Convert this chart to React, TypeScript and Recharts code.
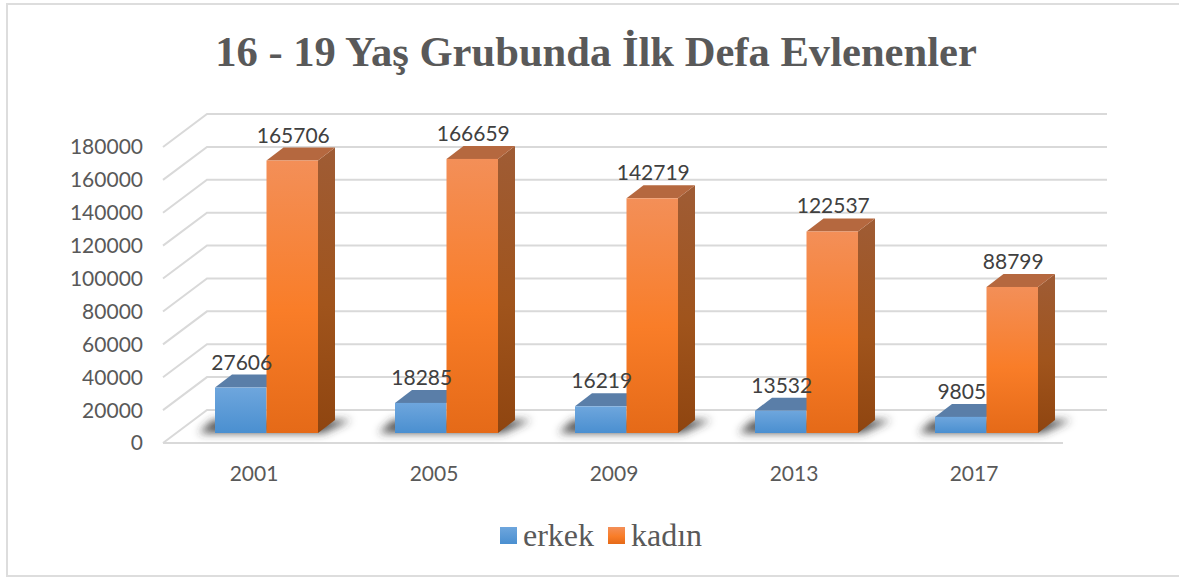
import React from "react";
import { BarChart, Bar, XAxis, YAxis, CartesianGrid, Legend, LabelList } from "recharts";

const years = ["2001", "2005", "2009", "2013", "2017"];
const erkek = [27606, 18285, 16219, 13532, 9805];
const kadin = [165706, 166659, 142719, 122537, 88799];
const yTicks = [0, 20000, 40000, 60000, 80000, 100000, 120000, 140000, 160000, 180000];
const TITLE = "16 - 19 Yaş Grubunda İlk Defa Evlenenler";

const data = years.map((year, i) => ({ year, erkek: erkek[i], kadin: kadin[i] }));

const DX = 13;
const DY = -10;
const SX = 17;
const SY = -13;
const WALL_X = 44;
const WALL_Y = -33;
const GRID = "#D9D9D9";
const AXIS_FONT = "Lato, sans-serif";
const SERIF = "'Liberation Serif', serif";

const Grid = (props: any) => {
  const { x1, x2, y1, y2 } = props;
  const isZero = Math.abs(y1 - 443) < 2;
  return (
    <g>
      <polyline
        points={`${x1},${y1} ${x1 + WALL_X},${y1 + WALL_Y} ${x2 + WALL_X},${y2 + WALL_Y}`}
        fill="none"
        stroke={GRID}
        strokeWidth={2}
      />
      {isZero ? <line x1={x1} y1={y1} x2={x2} y2={y2} stroke={GRID} strokeWidth={2} /> : null}
    </g>
  );
};

const Cuboid = (props: any) => {
  const { x, y, width, height, kind } = props;
  const l = x + DX;
  const t = y + DY;
  const r = l + width;
  const b = t + height;
  const isBlue = kind === "blue";
  return (
    <g>
      {isBlue ? (
        <polygon
          points={`${l - 16},${b} ${l + 108},${b} ${l + 136},${b - 13} ${l - 2},${b - 13}`}
          fill="#333"
          fillOpacity={0.85}
          filter="url(#shadowBlur)"
        />
      ) : null}
      {isBlue ? null : (
        <polygon
          points={`${r},${t} ${r + SX},${t + SY} ${r + SX},${b + SY} ${r},${b}`}
          fill="url(#orangeSide)"
        />
      )}
      <polygon
        points={`${l},${t} ${l + SX},${t + SY} ${r + SX},${t + SY} ${r},${t}`}
        fill={isBlue ? "#5A7EA8" : "#B5683F"}
      />
      <rect x={l} y={t} width={width} height={height} fill={isBlue ? "url(#blueFront)" : "url(#orangeFront)"} />
    </g>
  );
};

const ValueLabel = (props: any) => {
  const { x, y, width, value } = props;
  return (
    <text
      x={x + DX + width / 2 + 1}
      y={y + DY - 18}
      textAnchor="middle"
      fill="#404040"
      fontFamily={AXIS_FONT}
      fontSize={21}
    >
      {value}
    </text>
  );
};

const swatch: Record<string, string> = {
  erkek: "linear-gradient(#6EA6DD, #4A8FD0)",
  kadin: "linear-gradient(#F38F58, #F97D28 55%, #E56A18)",
};

const LegendBox = (props: any) => (
  <div style={{ display: "flex", justifyContent: "center", alignItems: "center", gap: 14 }}>
    {(props.payload || []).map((p: any) => (
      <div key={p.dataKey} style={{ display: "flex", alignItems: "center", gap: 6 }}>
        <span style={{ width: 17, height: 17, display: "inline-block", background: swatch[p.dataKey] }} />
        <span style={{ fontFamily: SERIF, fontSize: 32, color: "#595959", lineHeight: "36px" }}>{p.value}</span>
      </div>
    ))}
  </div>
);

export default function App() {
  return (
    <div
      style={{
        position: "absolute",
        left: 0,
        top: 0,
        width: 1179,
        height: 577,
        background: "#fff",
        overflow: "hidden",
      }}
    >
      <BarChart
        width={1179}
        height={577}
        data={data}
        margin={{ top: 147, right: 116, bottom: 68, left: 93 }}
        barGap={0}
        barSize={51.5}
      >
        <defs>
          <linearGradient id="orangeFront" x1="0" y1="0" x2="0" y2="1">
            <stop offset="0" stopColor="#F38F58" />
            <stop offset="0.55" stopColor="#F97D28" />
            <stop offset="1" stopColor="#E56A18" />
          </linearGradient>
          <linearGradient id="orangeSide" x1="0" y1="0" x2="0" y2="1">
            <stop offset="0" stopColor="#9F5C35" />
            <stop offset="0.55" stopColor="#A0541C" />
            <stop offset="1" stopColor="#8F4510" />
          </linearGradient>
          <linearGradient id="blueFront" x1="0" y1="0" x2="0" y2="1">
            <stop offset="0" stopColor="#6EA6DD" />
            <stop offset="1" stopColor="#4A8FD0" />
          </linearGradient>
          <filter id="shadowBlur" x="-30%" y="-100%" width="160%" height="300%">
            <feGaussianBlur stdDeviation="4.5" />
          </filter>
        </defs>
        <text x={596} y={66} textAnchor="middle" fontFamily={SERIF} fontWeight="bold" fontSize={42.6} fill="#595959">
          {TITLE}
        </text>
        <CartesianGrid horizontal={(p: any) => <Grid key={p.key ?? p.index} {...p} />} vertical={false} />
        <XAxis
          dataKey="year"
          axisLine={false}
          tickLine={false}
          height={30}
          tick={{ fontFamily: AXIS_FONT, fontSize: 21, fill: "#595959", dx: 1 }}
          tickMargin={17}
        />
        <YAxis
          domain={[0, 180000]}
          ticks={yTicks}
          interval={0}
          axisLine={false}
          tickLine={false}
          width={70}
          tick={{ fontFamily: AXIS_FONT, fontSize: 21, fill: "#595959" }}
          tickMargin={14}
        />
        <Legend
          content={<LegendBox />}
          verticalAlign="bottom"
          wrapperStyle={{ position: "absolute", left: 0, width: 1202, top: 517, bottom: "auto" }}
        />
        <Bar dataKey="erkek" name="erkek" fill="#5B9BD5" isAnimationActive={false} shape={<Cuboid kind="blue" />}>
          <LabelList dataKey="erkek" content={<ValueLabel />} />
        </Bar>
        <Bar dataKey="kadin" name="kadın" fill="#ED7D31" isAnimationActive={false} shape={<Cuboid kind="orange" />}>
          <LabelList dataKey="kadin" content={<ValueLabel />} />
        </Bar>
      </BarChart>
      <div
        style={{
          position: "absolute",
          left: 6,
          top: 3,
          width: 1200,
          height: 570,
          border: "2px solid #DDDDDD",
          pointerEvents: "none",
        }}
      />
    </div>
  );
}
